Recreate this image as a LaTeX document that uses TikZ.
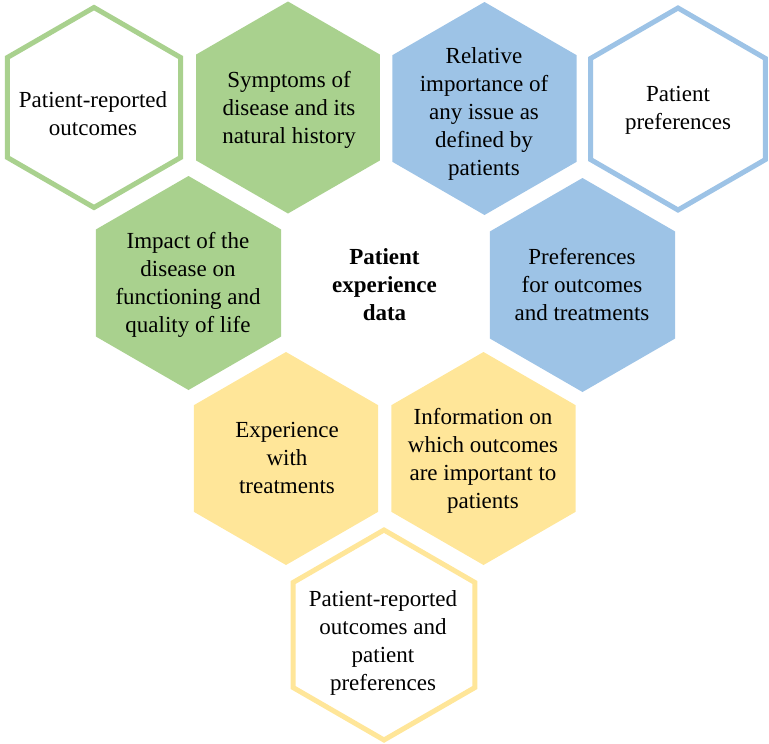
\documentclass[tikz,border=0pt]{standalone}
\usepackage{fontspec}
\setmainfont{Liberation Serif}
\definecolor{hexgreen}{HTML}{A9D18E}
\definecolor{hexblue}{HTML}{9DC3E6}
\definecolor{hexyellow}{HTML}{FFE699}
\tikzset{
  pics/hexagon/.style={code={%
    \path[pic actions] (90:#1) -- (150:#1) -- (210:#1) -- (270:#1)
      -- (330:#1) -- (30:#1) -- cycle;}},
  solidhex/.style={fill=#1, draw=none},
  ringhex/.style={draw=#1, fill=white, line width=5pt, line join=miter},
  hextext/.style={align=center, inner sep=0pt, text=black, yshift=-4pt,
    font=\fontsize{23}{28}\selectfont,
    execute at begin node=\strut, execute at end node=\strut},
}
\begin{document}
\begin{tikzpicture}[x=1pt, y=-1pt]
  \useasboundingbox (0,0) rectangle (769,744);

  % honeycomb cells
  \pic[ringhex=hexgreen]   (h1) at (94,107.5)  {hexagon=100};
  \pic[solidhex=hexgreen]  (h2) at (288,107.5) {hexagon=106};
  \pic[solidhex=hexblue]   (h3) at (484.5,108.5) {hexagon=106.5};
  \pic[ringhex=hexblue]    (h4) at (678,109)   {hexagon=101};
  \pic[solidhex=hexgreen]  (h5) at (188.5,283) {hexagon=107};
  \pic[solidhex=hexblue]   (h6) at (582.5,285) {hexagon=107};
  \pic[solidhex=hexyellow] (h7) at (286,458.5) {hexagon=106.5};
  \pic[solidhex=hexyellow] (h8) at (483.5,458.5) {hexagon=106.5};
  \pic[ringhex=hexyellow]  (h9) at (384,635)   {hexagon=105};

  % cell captions
  \node[hextext] (t1) at (93,114)    {Patient-reported\\outcomes};
  \node[hextext] (t2) at (289,108)   {Symptoms of\\disease and its\\natural history};
  \node[hextext] (t3) at (484,112)   {Relative\\importance of\\any issue as\\defined by\\patients};
  \node[hextext] (t4) at (678,108.5) {Patient\\preferences};
  \node[hextext] (t5) at (188,282.5) {Impact of the\\disease on\\functioning and\\quality of life};
  \node[hextext] (t6) at (582,285)   {Preferences\\for outcomes\\and treatments};
  \node[hextext, font=\fontsize{23}{28}\selectfont\bfseries] (t7) at (384.5,285) {Patient\\experience\\data};
  \node[hextext] (t8) at (287,458)   {Experience\\with\\treatments};
  \node[hextext] (t9) at (483,459)   {Information on\\which outcomes\\are important to\\patients};
  \node[hextext] (t10) at (383,640.5) {Patient-reported\\outcomes and\\patient\\preferences};
\end{tikzpicture}
\end{document}
